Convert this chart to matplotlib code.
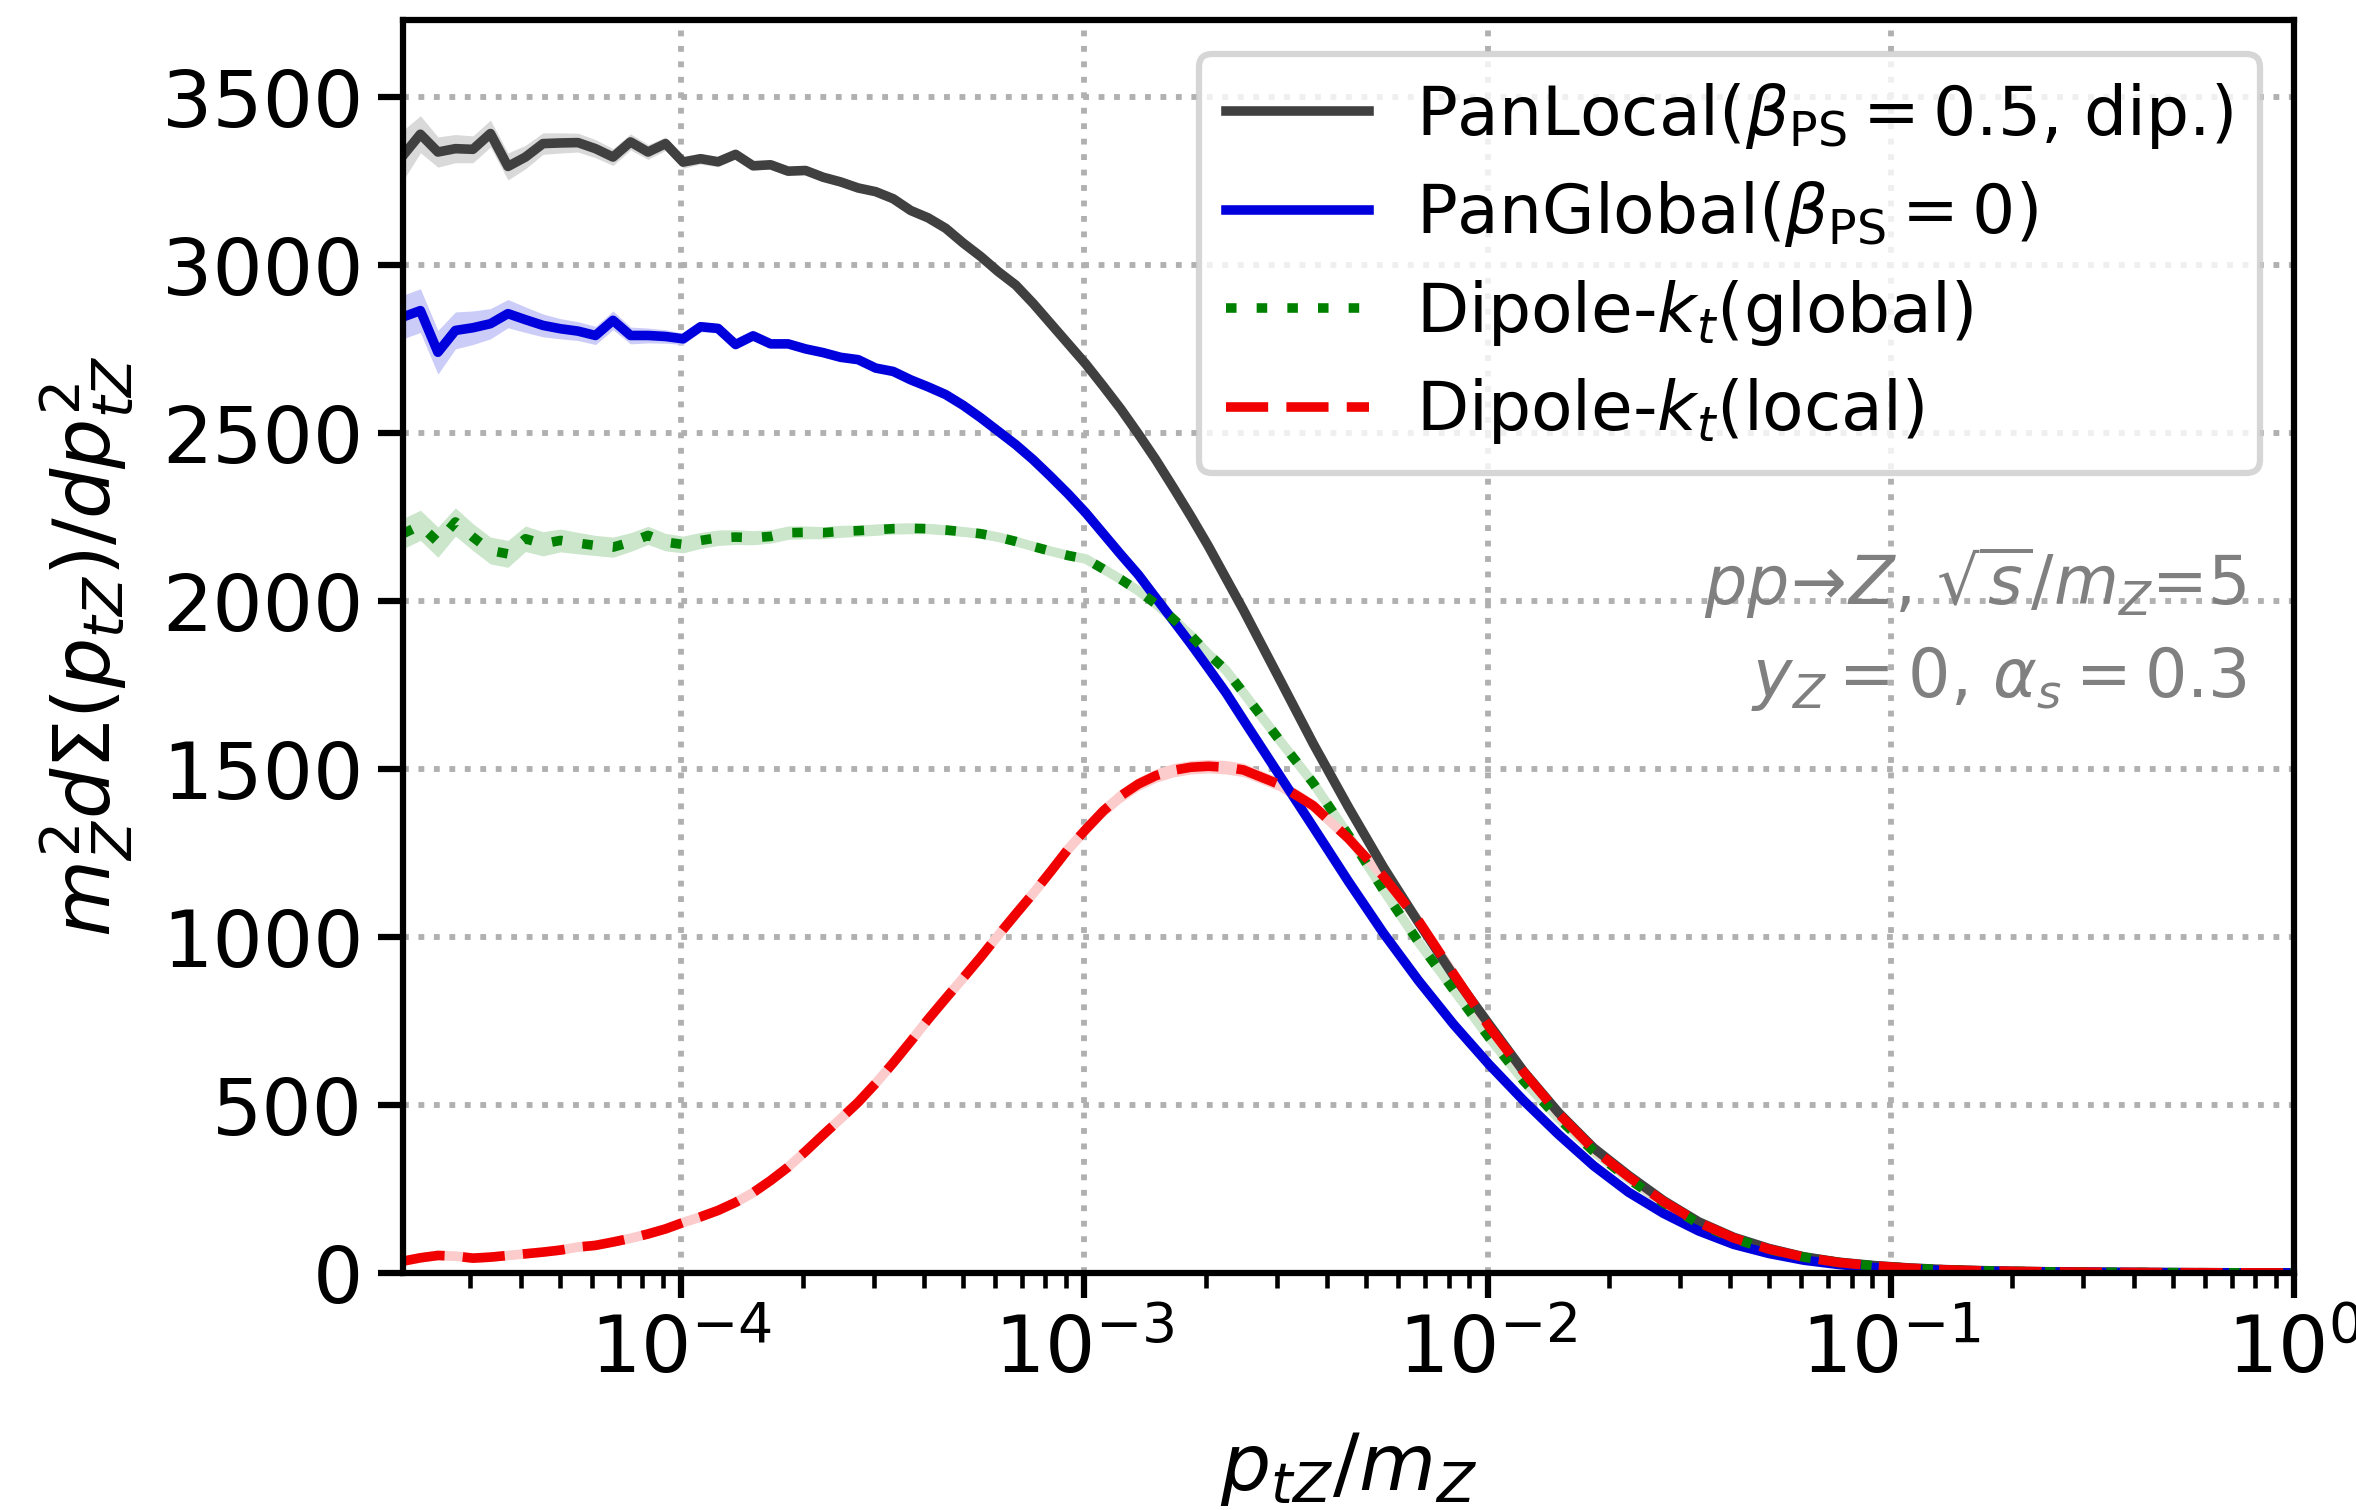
import numpy as np
import matplotlib
matplotlib.use("Agg")
import matplotlib.pyplot as plt

# Bin centres in ln(p_tZ/m_Z): fine bins at low p_t, coarser bins in the tail
ln_fine = np.round(np.arange(-10.8, -5.95, 0.1), 2)
ln_coarse = np.round(np.arange(-5.8, 0.05, 0.2), 2)
ptz_over_mz = np.exp(np.concatenate([ln_fine, ln_coarse]))

# m_Z^2 dSigma/dp_tZ^2 for each shower
panlocal = [3325, 3389, 3336, 3346, 3344, 3391, 3293, 3321, 3361, 3363,
            3364, 3346, 3321, 3366, 3336, 3361, 3306, 3316, 3307, 3329,
            3295, 3298, 3279, 3281, 3261, 3247, 3229, 3218, 3197, 3162,
            3140, 3109, 3065, 3025, 2980, 2940, 2885, 2825, 2765, 2705,
            2639, 2571, 2497, 2420, 2337, 2252, 2163, 2068, 1973,
            1774, 1574, 1386, 1207, 1043, 885, 742, 600, 477, 372,
            290, 215, 152, 106, 73, 48, 32, 22, 15, 10,
            7, 5, 3.5, 2.5, 1.8, 1.2, 0.8, 0.5, 0.3, 0.2]
panlocal_err = [75, 55, 45, 42, 40, 40, 40, 35, 32, 30,
                28, 27, 25, 24, 22, 20, 18, 16, 15, 14,
                13, 12, 11, 10, 10, 9, 9, 8, 8, 7,
                7, 7, 6, 6, 6, 6, 5, 5, 5, 5,
                5, 5, 5, 5, 5, 5, 5, 5, 5,
                5, 5, 5, 5, 5, 4, 4, 3, 3, 3,
                2, 2, 2, 2, 1, 1, 1, 1, 1, 1,
                1, 1, 1, 1, 1, 1, 1, 1, 1, 1]

panglobal = [2845, 2864, 2740, 2805, 2813, 2825, 2855, 2837, 2820, 2810,
             2803, 2790, 2835, 2790, 2790, 2787, 2780, 2816, 2811, 2763,
             2789, 2765, 2765, 2750, 2739, 2725, 2718, 2693, 2683, 2658,
             2637, 2614, 2582, 2545, 2505, 2465, 2420, 2370, 2318, 2262,
             2200, 2138, 2078, 2009, 1941, 1872, 1800, 1727, 1646,
             1486, 1326, 1165, 1011, 870, 740, 622, 513, 412, 319,
             240, 177, 125, 85, 58, 38, 25, 16, 11, 7,
             5, 3.5, 2.5, 1.8, 1.2, 0.8, 0.5, 0.3, 0.2, 0.1]
panglobal_err = [65, 65, 65, 55, 50, 45, 42, 38, 34, 30,
                 28, 27, 28, 25, 22, 20, 17, 15, 14, 13,
                 12, 11, 10, 10, 9, 9, 8, 8, 7, 7,
                 7, 6, 6, 6, 6, 5, 5, 5, 5, 5,
                 5, 5, 5, 5, 5, 5, 5, 5, 5,
                 5, 5, 5, 5, 4, 4, 4, 3, 3, 3,
                 2, 2, 2, 2, 1, 1, 1, 1, 1, 1,
                 1, 1, 1, 1, 1, 1, 1, 1, 1, 1]

dipole_global = [2200, 2225, 2175, 2235, 2190, 2150, 2140, 2185, 2170, 2180,
                 2172, 2165, 2160, 2175, 2195, 2175, 2168, 2180, 2188, 2190,
                 2188, 2192, 2203, 2204, 2203, 2207, 2209, 2212, 2215, 2216,
                 2215, 2211, 2206, 2200, 2190, 2177, 2162, 2148, 2135, 2125,
                 2095, 2064, 2030, 1991, 1946, 1897, 1842, 1794, 1727,
                 1590, 1457, 1303, 1139, 985, 843, 703, 572, 460, 362,
                 280, 208, 147, 102, 70, 47, 31, 21, 14, 9.5,
                 6.5, 4.5, 3.2, 2.3, 1.6, 1.1, 0.7, 0.45, 0.3, 0.2]
dipole_global_err = [45, 45, 45, 42, 40, 40, 40, 38, 36, 34,
                     32, 30, 30, 28, 27, 26, 25, 24, 23, 22,
                     21, 20, 20, 19, 18, 18, 17, 17, 16, 16,
                     15, 15, 14, 14, 13, 13, 12, 12, 12, 11,
                     11, 11, 10, 10, 10, 10, 10, 10, 10,
                     9, 9, 8, 8, 7, 6, 5, 5, 4, 3,
                     3, 2, 2, 2, 1, 1, 1, 1, 1, 1,
                     1, 1, 1, 1, 1, 1, 1, 1, 1, 1]

dipole_local = [35, 45, 52, 50, 44, 47, 52, 57, 62, 68,
                77, 82, 92, 103, 116, 131, 150, 167, 186, 210,
                239, 275, 315, 362, 411, 459, 508, 564, 625, 689,
                755, 817, 878, 940, 1005, 1068, 1130, 1195, 1262, 1320,
                1375, 1420, 1455, 1480, 1496, 1505, 1508, 1505, 1497,
                1455, 1390, 1293, 1180, 1048, 890, 735, 598, 474, 368,
                286, 212, 150, 104, 71, 47, 31, 21, 14, 9.5,
                6.5, 4.5, 3.2, 2.3, 1.6, 1.1, 0.7, 0.45, 0.3, 0.2]
dipole_local_err = [12, 12, 12, 12, 12, 12, 12, 12, 12, 12,
                    12, 12, 12, 12, 12, 12, 13, 13, 13, 13,
                    14, 14, 14, 15, 15, 15, 16, 16, 16, 17,
                    17, 17, 18, 18, 18, 18, 19, 19, 19, 19,
                    19, 20, 20, 20, 20, 20, 20, 20, 20,
                    19, 19, 18, 17, 16, 15, 13, 12, 10, 9,
                    8, 7, 6, 5, 4, 3, 2, 2, 1, 1,
                    1, 1, 1, 1, 1, 1, 1, 1, 1, 1]

labels = [r'PanLocal($\beta_{\rm PS}=0.5$, dip.)',
          r'PanGlobal($\beta_{\rm PS}=0$)',
          r'Dipole-$k_t$(global)',
          r'Dipole-$k_t$(local)']
colors = ['#404040', '#0000dd', '#008000', '#f00000']
band_colors = ['#d9d9d9', '#ccccf8', '#cce6cc', '#fccccc']
styles = ['-', '-', (0, (1.1, 2.1)), (0, (4.4, 1.9))]
values = [panlocal, panglobal, dipole_global, dipole_local]
errors = [panlocal_err, panglobal_err, dipole_global_err, dipole_local_err]

plt.rcParams['font.family'] = ['DejaVu Sans']
plt.rcParams['mathtext.fontset'] = 'dejavusans'

fig = plt.figure(figsize=(2356 / 300, 1510 / 300), dpi=300)
ax = fig.add_axes([0.171, 0.157, 0.9737 - 0.171, 0.987 - 0.157])

lw = 2.3
for i, (y, e, c, bc, ls, lab) in enumerate(zip(values, errors, colors,
                                                band_colors, styles, labels)):
    y = np.asarray(y, dtype=float)
    e = np.asarray(e, dtype=float)
    ax.fill_between(ptz_over_mz, y - e, y + e, color=bc, lw=0, zorder=1.2)
    if ls != '-':
        # light solid trace under broken line styles
        ax.plot(ptz_over_mz, y, color=bc, lw=lw, solid_capstyle='butt',
                zorder=1.3)
    ax.plot(ptz_over_mz, y, color=c, lw=lw, linestyle=ls, label=lab,
            dash_capstyle='butt', zorder=2 + i * 0.1)

ax.set_xscale('log')
ax.set_xlim(ptz_over_mz[0], 1.0)
ax.set_ylim(0, 3730)
ax.set_yticks(np.arange(0, 3501, 500))

ax.set_axisbelow(True)
ax.grid(True, which='major', linestyle=':', linewidth=1.4, color='#b0b0b0')

for sp in ax.spines.values():
    sp.set_linewidth(1.5)
ax.tick_params(which='major', length=6, width=1.5, labelsize=19, pad=3.5)
ax.tick_params(which='minor', length=3.5, width=1.1)

ax.set_xlabel(r'$p_{tZ}/m_Z$', fontsize=19, labelpad=10)
ax.set_ylabel(r'$m_Z^2 d\Sigma(p_{tZ})/dp_{tZ}^2$', fontsize=19, labelpad=6)

leg = ax.legend(loc='upper right', fontsize=16.3, handlelength=2.1,
                handletextpad=0.7, labelspacing=0.42, framealpha=0.8,
                edgecolor='0.8')
leg.get_frame().set_linewidth(1.5)

ax.text(0.975, 0.552, r'$pp\!\rightarrow\!Z$, $\sqrt{s}/m_Z$=5',
        transform=ax.transAxes, ha='right', va='center', fontsize=16,
        color='gray')
ax.text(0.975, 0.474, r'$y_Z=0$, $\alpha_s=0.3$',
        transform=ax.transAxes, ha='right', va='center', fontsize=16,
        color='gray')

fig.savefig('out.png', dpi=300)
